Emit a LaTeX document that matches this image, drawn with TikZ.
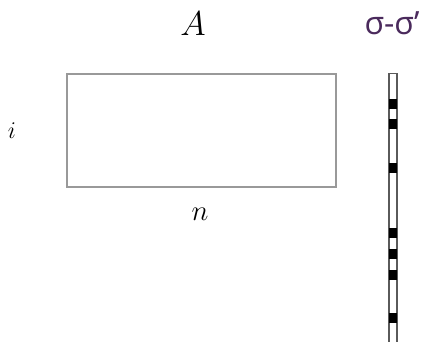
\documentclass[tikz,border=0pt]{standalone}
\usepackage{fontspec}
\newfontfamily\labelfont{Open Sans}
\usetikzlibrary{positioning}
\definecolor{cgrey}{HTML}{999999}
\definecolor{cdark}{HTML}{5A5A5A}
\definecolor{cpurple}{HTML}{4A2A5C}
\tikzset{
  every picture/.style={line width=0.75pt},
  matbox/.style={draw=cgrey, fill=white, minimum width=134.5pt, minimum height=56.5pt, inner sep=0pt},
  vecbox/.style={draw=cdark, fill=white, line width=0.6pt, minimum width=4pt, minimum height=136pt, inner sep=0pt},
  bit/.style={fill=black, minimum width=4pt, minimum height=5pt, inner sep=0pt},
  mathlabel/.style={font=\fontsize{16}{18}\selectfont},
}
\begin{document}
\begin{tikzpicture}[x=0.5pt, y=-0.5pt]
  \useasboundingbox (0, 0) rectangle (423, 342);
  \node[matbox] (A) at (201.5, 130.5) {};
  \node[mathlabel] (Alabel) at (193, 24) {$A$};
  \node[mathlabel, font=\fontsize{13}{15}\selectfont] (ilabel) at (12, 131) {$i$};
  \node[mathlabel, font=\fontsize{14}{16}\selectfont] (nlabel) at (200, 214) {$n$};
  % the sign vector
  \node[vecbox, anchor=north] (vec) at (393, 73) {};
  \foreach \y in {98, 118, 162, 227, 248, 269, 312}
    \node[bit, anchor=north] (bit\y) at (393, \y) {};
  \node[font=\labelfont\fontsize{16}{18}\selectfont, text=cpurple] (veclabel) at (392, 23) {σ-σ’};
\end{tikzpicture}
\end{document}
